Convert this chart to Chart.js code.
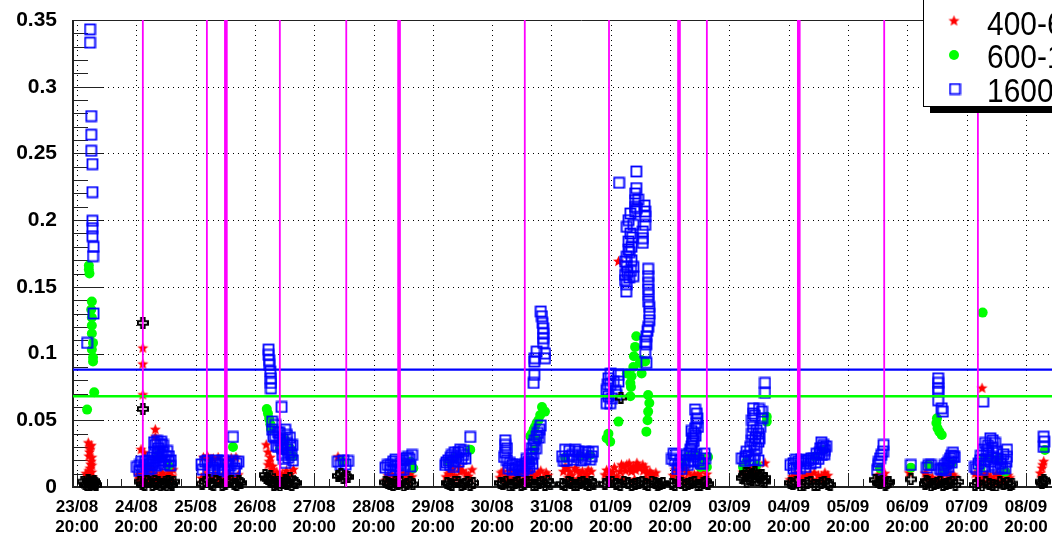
<!DOCTYPE html>
<html>
<head>
<meta charset="utf-8">
<script src="https://cdn.jsdelivr.net/npm/chart.js@4.4.1/dist/chart.umd.min.js"></script>
<style>
  html, body { margin: 0; padding: 0; background: #fff; overflow: hidden; }
  #wrap { position: absolute; left: 0; top: 0; width: 1100px; height: 537px; }
</style>
</head>
<body>
<div id="wrap"><canvas id="c"></canvas></div>
<script>
// x = days after 23/08 20:00, y = rate
const dayLabels = ['23/08','24/08','25/08','26/08','27/08','28/08','29/08','30/08','31/08',
                   '01/09','02/09','03/09','04/09','05/09','06/09','07/09','08/09'];
const valueTicks = [0, 0.05, 0.1, 0.15, 0.2, 0.25, 0.3, 0.35];
const legendLabels = ['400-600', '600-1600', '1600-'];
const xMin = -0.0675, xMax = 17.08;

// vertical event markers (days) and the two reference levels
const eventDays = [1.11, 2.19, 3.42, 4.54, 7.55, 8.97, 10.62, 13.61, 15.19];
const thickEventDays = [2.51, 5.43, 10.15, 12.17];
const blueLevel = 0.088;
const greenLevel = 0.068;

const red400 = [
  // 23/08
  [0.19,0.033],[0.24,0.031],[0.22,0.028],[0.25,0.022],[0.20,0.023],[0.24,0.019],[0.22,0.014],[0.25,0.011],[0.15,0.010],
  [0.21,0.026],[0.23,0.017],[0.20,0.012],[0.25,0.016],[0.22,0.030],[0.18,0.008],[0.26,0.007],
  // 24/08
  [1.11,0.104],[1.11,0.092],[1.11,0.069],[1.13,0.0255],[1.32,0.043],[1.32,0.0375],[1.03,0.009],[1.15,0.0068],[1.23,0.0105],
  [1.32,0.0053],[1.40,0.0083],[1.48,0.0068],[1.57,0.0113],[1.62,0.0128],[1.08,0.028],
  [1.05,0.006],[1.12,0.0095],[1.19,0.0085],[1.26,0.007],[1.30,0.010],[1.35,0.008],[1.44,0.0105],[1.52,0.009],[1.60,0.008],
  [1.09,0.0035],[1.21,0.004],[1.39,0.005],[1.56,0.0045],[1.25,0.0135],[1.14,0.013],
  // 25/08
  [2.13,0.022],[2.24,0.020],[2.38,0.022],[2.51,0.020],[2.68,0.022],[2.16,0.009],[2.28,0.0068],[2.45,0.0083],[2.61,0.0068],[2.72,0.009],
  [2.19,0.0145],[2.33,0.009],[2.40,0.0045],[2.55,0.0095],[2.67,0.005],[2.10,0.0065],[2.49,0.0055],[2.30,0.021],[2.60,0.0215],[2.20,0.023],
  // 26/08
  [3.19,0.0315],[3.22,0.026],[3.26,0.022],[3.22,0.0165],[3.29,0.0128],[3.34,0.0083],[3.42,0.0068],
  [3.24,0.019],[3.30,0.0155],[3.37,0.011],[3.46,0.0095],[3.53,0.012],[3.60,0.0095],[3.65,0.013],
  // 27/08
  [4.40,0.0225],
  // 28/08
  [5.24,0.0083],[5.36,0.0068],[5.45,0.009],[5.55,0.0068],[5.62,0.0098],
  [5.21,0.005],[5.30,0.0095],[5.40,0.0055],[5.50,0.010],[5.58,0.0045],[5.65,0.0075],
  // 29/08
  [6.26,0.0098],[6.36,0.0083],[6.46,0.0113],[6.56,0.0098],[6.63,0.006],[6.66,0.0128],
  [6.22,0.0075],[6.30,0.011],[6.40,0.0065],[6.50,0.012],[6.60,0.008],[6.33,0.0135],[6.45,0.0145],
  // 30/08
  [7.18,0.0113],[7.27,0.0083],[7.37,0.0068],[7.47,0.0098],[7.56,0.0075],[7.64,0.0113],[7.74,0.0083],[7.82,0.012],[7.91,0.0105],[7.13,0.0068],
  [7.15,0.0105],[7.22,0.0055],[7.30,0.0115],[7.33,0.0045],[7.42,0.0105],[7.45,0.005],[7.51,0.0115],[7.60,0.0065],[7.68,0.0095],
  [7.70,0.005],[7.78,0.0105],[7.86,0.0065],[7.94,0.0085],[7.52,0.0035],
  // 31/08
  [8.23,0.015],[8.31,0.0113],[8.40,0.014],[8.48,0.0098],[8.57,0.0083],[8.62,0.0128],[8.28,0.0068],[8.45,0.006],
  [8.20,0.0115],[8.26,0.014],[8.34,0.0085],[8.42,0.0125],[8.52,0.0115],[8.60,0.0095],[8.67,0.0115],[8.36,0.005],[8.55,0.005],
  // 01/09
  [9.13,0.169],[9.21,0.0152],[9.27,0.0165],[9.38,0.0152],[9.44,0.0178],[9.49,0.014],[9.61,0.0103],[9.66,0.0115],
  [8.99,0.0103],[9.10,0.0077],[9.35,0.0115],[9.72,0.0077],[8.90,0.009],
  [8.93,0.0125],[9.03,0.011],[9.06,0.0145],[9.16,0.0115],[9.18,0.0165],[9.25,0.012],[9.31,0.0175],[9.33,0.0135],[9.42,0.0125],
  [9.46,0.0155],[9.54,0.0165],[9.55,0.012],[9.58,0.0145],[9.69,0.0095],[9.76,0.0105],[9.00,0.0055],[9.20,0.006],[9.40,0.0055],[9.60,0.006],
  // 02/09
  [10.08,0.0128],[10.17,0.0083],[10.27,0.0113],[10.37,0.0068],[10.47,0.0098],[10.57,0.0128],[10.24,0.014],
  [10.05,0.0085],[10.13,0.011],[10.21,0.0065],[10.31,0.0105],[10.41,0.009],[10.52,0.0075],[10.62,0.0095],[10.28,0.0045],[10.47,0.0045],
  // 03/09
  [11.60,0.0178],[11.35,0.014],[11.23,0.011],[11.45,0.0125],
  // 04/09
  [12.11,0.009],[12.23,0.0068],[12.36,0.0098],[12.50,0.0083],[12.61,0.0105],[12.02,0.0053],
  [12.06,0.0075],[12.16,0.0105],[12.29,0.0085],[12.43,0.0105],[12.55,0.008],[12.66,0.0085],[12.20,0.0045],[12.40,0.0055],[12.58,0.005],
  // 05/09 - 06/09
  [13.54,0.009],[13.59,0.0068],[13.50,0.0085],[13.62,0.010],
  [14.03,0.0105],
  [14.30,0.0103],[14.35,0.0068],[14.64,0.0103],[14.72,0.0077],[14.77,0.009],[14.38,0.0045],[14.67,0.0053],
  [14.33,0.0085],[14.42,0.007],[14.58,0.0085],[14.69,0.0095],[14.80,0.0075],[14.52,0.0055],
  // 07/09
  [15.26,0.074],
  [15.14,0.0098],[15.23,0.0068],[15.35,0.009],[15.45,0.006],[15.55,0.0083],[15.65,0.0098],[15.73,0.0068],[15.28,0.0038],[15.50,0.003],
  [15.18,0.0085],[15.30,0.0095],[15.40,0.0075],[15.50,0.0095],[15.60,0.007],[15.70,0.0085],[15.20,0.004],[15.40,0.0035],[15.60,0.004],
  // 08/09
  [16.30,0.019],[16.27,0.014],[16.24,0.0103],[16.28,0.0165]
];

const green600 = [
  [0.20,0.166],[0.20,0.163],[0.21,0.160],[0.25,0.139],[0.24,0.133],[0.25,0.127],[0.25,0.121],[0.25,0.115],[0.27,0.108],
  [0.25,0.103],[0.27,0.097],[0.27,0.094],[0.29,0.071],[0.17,0.058],
  [1.54,0.016],[1.37,0.024],
  [2.63,0.030],
  [3.20,0.0585],[3.22,0.055],[3.24,0.051],[3.26,0.047],[3.27,0.0435],[3.51,0.035],[3.59,0.029],[3.42,0.028],[3.64,0.023],
  [4.49,0.019],
  [5.62,0.019],[5.67,0.014],
  [6.63,0.028],[6.37,0.022],[6.26,0.019],
  [7.84,0.060],[7.89,0.0565],[7.81,0.054],[7.78,0.050],[7.75,0.048],[7.72,0.045],[7.70,0.043],[7.67,0.040],[7.64,0.038],
  [7.64,0.020],[7.71,0.028],[7.76,0.035],
  [8.23,0.022],[8.48,0.023],[8.65,0.024],
  [9.43,0.113],[9.41,0.105],[9.39,0.098],[9.38,0.090],[9.35,0.083],[9.34,0.075],[9.33,0.068],[9.49,0.093],[9.52,0.085],
  [9.58,0.094],[9.27,0.085],[9.33,0.078],[9.52,0.095],[9.63,0.069],[9.65,0.063],[9.63,0.0565],[9.62,0.050],[9.60,0.0415],
  [9.13,0.049],[8.96,0.040],[8.93,0.0365],[8.99,0.034],
  [10.30,0.0227],[10.56,0.0215],[10.62,0.015],[10.51,0.015],[10.64,0.0225],[10.20,0.018],[10.45,0.024],
  [11.63,0.0527],[11.63,0.049],[11.29,0.019],[11.23,0.015],[11.46,0.0165],
  [12.59,0.0277],[12.16,0.0165],[12.44,0.0227],
  [13.54,0.014],
  [14.06,0.0145],
  [14.50,0.0515],[14.49,0.048],[14.51,0.044],[14.54,0.0415],[14.58,0.039],[14.36,0.0165],[14.61,0.0128],[14.75,0.0178],
  [15.27,0.1307],
  [15.28,0.0215],[15.40,0.0215],[15.54,0.0215],[15.65,0.0115],[15.23,0.014],
  [16.32,0.0277]
];

const blue1600 = [
  // 23/08
  [0.22,0.343],[0.22,0.333],[0.24,0.278],[0.24,0.264],[0.24,0.252],[0.26,0.242],[0.26,0.221],[0.26,0.1995],[0.26,0.194],
  [0.26,0.188],[0.28,0.180],[0.27,0.173],[0.28,0.130],[0.17,0.108],
  // 24/08
  [1.06,0.0165],[1.15,0.019],[1.23,0.017],[1.10,0.0128],[1.20,0.0128],[1.32,0.0315],[1.37,0.029],[1.40,0.026],[1.43,0.023],
  [1.48,0.020],[1.54,0.019],[1.57,0.016],[1.35,0.0345],[1.45,0.0315],[1.27,0.022],[1.33,0.016],[1.42,0.034],
  [1.01,0.015],[1.08,0.019],[1.13,0.015],[1.18,0.017],[1.25,0.014],[1.29,0.019],[1.30,0.026],[1.35,0.022],[1.38,0.018],
  [1.40,0.032],[1.45,0.026],[1.47,0.017],[1.50,0.023],[1.52,0.027],[1.55,0.023],[1.58,0.020],[1.41,0.020],[1.36,0.0255],
  [1.30,0.0335],[1.27,0.017],[1.05,0.012],[1.21,0.020],
  // 25/08
  [2.16,0.019],[2.24,0.0165],[2.33,0.018],[2.41,0.0165],[2.50,0.019],[2.58,0.016],[2.66,0.014],[2.21,0.0128],[2.38,0.0128],
  [2.55,0.012],[2.72,0.019],[2.63,0.0375],
  [2.10,0.017],[2.20,0.020],[2.29,0.0145],[2.36,0.020],[2.45,0.0135],[2.46,0.020],[2.54,0.0165],[2.62,0.0195],[2.69,0.0175],
  [2.12,0.013],[2.31,0.012],[2.49,0.0115],[2.66,0.012],
  // 26/08
  [3.23,0.103],[3.23,0.099],[3.24,0.095],[3.24,0.0915],[3.26,0.0865],[3.27,0.0815],[3.27,0.078],[3.27,0.074],[3.45,0.060],
  [3.29,0.049],[3.34,0.0465],[3.29,0.043],[3.39,0.041],[3.34,0.037],[3.42,0.035],[3.51,0.043],[3.54,0.039],[3.59,0.037],
  [3.63,0.0315],[3.54,0.033],[3.47,0.029],[3.59,0.026],[3.56,0.022],[3.64,0.020],[3.46,0.024],[3.51,0.018],[3.39,0.030],
  [3.31,0.038],[3.36,0.031],[3.42,0.0405],[3.47,0.036],[3.49,0.021],[3.55,0.028],[3.60,0.031],[3.62,0.024],[3.44,0.031],
  // 27/08
  [4.40,0.019],[4.49,0.020],[4.57,0.0195],[4.45,0.0165],[4.53,0.017],
  // 28/08
  [5.24,0.0165],[5.33,0.019],[5.41,0.016],[5.50,0.020],[5.58,0.0225],[5.65,0.024],[5.28,0.0128],[5.45,0.0128],
  [5.20,0.0145],[5.29,0.0165],[5.37,0.0155],[5.37,0.0205],[5.46,0.018],[5.53,0.0165],[5.55,0.0215],[5.61,0.021],[5.62,0.0155],
  [5.33,0.0125],[5.50,0.013],
  // 29/08
  [6.21,0.0165],[6.26,0.020],[6.32,0.024],[6.37,0.026],[6.46,0.028],[6.51,0.024],[6.29,0.0165],[6.43,0.019],[6.63,0.0375],
  [6.23,0.0185],[6.30,0.022],[6.34,0.0195],[6.40,0.0225],[6.43,0.026],[6.48,0.021],[6.52,0.027],[6.55,0.0215],[6.35,0.015],
  // 30/08
  [7.82,0.1315],[7.84,0.128],[7.85,0.123],[7.86,0.119],[7.86,0.115],[7.86,0.1115],[7.86,0.108],[7.75,0.1015],[7.89,0.100],
  [7.72,0.0965],[7.71,0.094],[7.89,0.0965],[7.71,0.084],[7.70,0.078],
  [7.22,0.035],[7.22,0.0315],[7.22,0.026],[7.25,0.020],[7.34,0.0165],[7.44,0.015],[7.54,0.016],[7.61,0.019],[7.64,0.024],
  [7.67,0.029],[7.72,0.035],[7.77,0.0405],[7.34,0.0128],[7.47,0.012],[7.59,0.014],
  [7.20,0.0225],[7.25,0.029],[7.28,0.014],[7.30,0.018],[7.39,0.0135],[7.40,0.017],[7.49,0.0155],[7.52,0.0125],[7.57,0.0175],
  [7.58,0.021],[7.63,0.015],[7.66,0.021],[7.69,0.025],[7.70,0.032],[7.74,0.029],[7.75,0.038],[7.80,0.043],[7.79,0.037],
  [7.82,0.046],[7.68,0.0175],
  // 31/08
  [8.18,0.023],[8.26,0.020],[8.35,0.024],[8.45,0.0225],[8.53,0.024],[8.62,0.026],[8.68,0.023],[8.23,0.028],[8.40,0.028],
  [8.21,0.0195],[8.30,0.023],[8.30,0.027],[8.37,0.0205],[8.45,0.0265],[8.50,0.020],[8.57,0.021],[8.57,0.0265],[8.65,0.0205],[8.70,0.0265],
  // 01/09
  [9.43,0.2365],[9.14,0.228],[9.43,0.224],[9.41,0.220],[9.41,0.215],[9.41,0.210],[9.41,0.2065],[9.58,0.2065],[9.58,0.2027],
  [9.27,0.195],[9.38,0.1965],[9.58,0.1965],[9.54,0.1915],[9.54,0.1865],[9.54,0.183],[9.33,0.190],[9.30,0.184],[9.30,0.178],
  [9.27,0.1727],[9.24,0.169],[9.35,0.170],[9.38,0.165],[9.27,0.165],[9.24,0.159],[9.24,0.155],[9.38,0.158],[9.26,0.1465],
  [9.63,0.158],[9.63,0.153],[9.63,0.148],[9.63,0.139],[9.65,0.130],[9.65,0.125],[9.63,0.120],[9.60,0.113],[9.60,0.093],
  [9.30,0.200],[9.33,0.205],[9.35,0.180],[9.32,0.176],[9.36,0.187],[9.28,0.161],[9.31,0.157],[9.34,0.162],[9.27,0.152],
  [9.46,0.2155],[9.44,0.209],[9.57,0.211],[9.63,0.1635],[9.64,0.144],[9.65,0.135],[9.62,0.117],[9.60,0.107],[9.58,0.101],
  [8.96,0.0815],[8.99,0.0765],[9.13,0.084],[9.13,0.079],[8.93,0.0727],[9.02,0.0665],[8.93,0.0628],[8.99,0.0628],[9.58,0.109],
  [9.05,0.079],[9.08,0.072],[8.96,0.068],[9.10,0.069],[9.00,0.085],[8.95,0.077],
  // 02/09
  [10.42,0.058],[10.45,0.055],[10.46,0.0515],[10.44,0.048],[10.42,0.044],[10.40,0.040],[10.38,0.0365],[10.37,0.033],[10.34,0.028],
  [10.28,0.024],[10.22,0.020],[10.06,0.025],[10.08,0.020],[10.14,0.0165],[10.34,0.020],[10.39,0.0227],[10.51,0.0178],[10.59,0.0215],
  [10.03,0.021],[10.10,0.024],[10.17,0.020],[10.19,0.0135],[10.25,0.018],[10.30,0.0165],[10.32,0.025],[10.36,0.0305],[10.40,0.019],
  [10.43,0.0385],[10.44,0.0245],[10.47,0.045],[10.48,0.020],[10.55,0.0175],[10.58,0.025],[10.12,0.0135],[10.40,0.0345],[10.36,0.042],
  // 03/09
  [11.60,0.078],[11.60,0.0705],[11.40,0.059],[11.40,0.055],[11.55,0.0565],[11.55,0.0515],[11.38,0.050],[11.40,0.045],[11.52,0.045],
  [11.38,0.040],[11.49,0.040],[11.38,0.035],[11.49,0.034],[11.35,0.030],[11.46,0.029],[11.29,0.0265],[11.27,0.0227],[11.43,0.024],
  [11.49,0.020],[11.35,0.020],[11.21,0.0215],
  [11.26,0.0195],[11.32,0.0235],[11.42,0.032],[11.44,0.037],[11.46,0.0425],[11.51,0.0365],[11.43,0.0535],[11.50,0.0585],[11.41,0.0205],
  // 04/09
  [12.08,0.0178],[12.16,0.019],[12.25,0.0178],[12.33,0.020],[12.42,0.0215],[12.47,0.025],[12.53,0.029],[12.59,0.0315],[12.61,0.0277],
  [12.56,0.024],[12.08,0.014],[12.19,0.014],
  [12.03,0.0165],[12.12,0.0205],[12.13,0.0145],[12.21,0.0205],[12.28,0.015],[12.29,0.0195],[12.37,0.0175],[12.38,0.0215],
  [12.45,0.0185],[12.50,0.021],[12.52,0.0255],[12.57,0.0295],[12.63,0.0305],[12.60,0.0245],[12.55,0.0335],
  // 05/09 - 06/09
  [13.60,0.0315],[13.59,0.0265],[13.54,0.0215],[13.51,0.0165],[13.49,0.0128],[13.56,0.024],[13.52,0.019],
  [14.06,0.0165],
  [14.52,0.0815],[14.52,0.078],[14.52,0.074],[14.52,0.0715],[14.52,0.065],[14.58,0.059],[14.60,0.0565],
  [14.36,0.0165],[14.61,0.014],[14.67,0.0178],[14.72,0.0215],[14.77,0.0257],[14.78,0.0227],[14.69,0.015],[14.58,0.0128],
  [14.33,0.0145],[14.40,0.0165],[14.63,0.0165],[14.70,0.0195],[14.75,0.0185],[14.74,0.0235],[14.65,0.0125],[14.80,0.0225],[14.55,0.0135],
  // 07/09
  [15.28,0.064],
  [15.40,0.0365],[15.31,0.033],[15.48,0.033],[15.28,0.028],[15.37,0.025],[15.51,0.0265],[15.68,0.028],[15.68,0.0227],[15.67,0.019],
  [15.65,0.014],[15.23,0.020],[15.14,0.015],[15.26,0.0128],[15.40,0.019],[15.57,0.0178],[15.48,0.015],
  [15.17,0.0135],[15.20,0.0175],[15.24,0.0235],[15.30,0.0155],[15.33,0.0205],[15.34,0.027],[15.36,0.031],[15.43,0.0295],
  [15.44,0.0225],[15.46,0.0165],[15.52,0.0215],[15.53,0.0135],[15.58,0.0205],[15.60,0.0145],[15.62,0.0245],[15.44,0.035],
  // 08/09
  [16.30,0.0377],[16.31,0.034],[16.30,0.030]
];

const black = [
  [0.14,0.002],[0.19,0.005],[0.24,0.003],[0.29,0.0045],[0.32,0.0015],[0.17,0.001],
  [0.10,0.004],[0.22,0.0015],[0.27,0.002],[0.21,0.0035],[0.31,0.003],
  [1.11,0.123],[1.11,0.0585],[1.10,0.0023],[1.18,0.0045],[1.27,0.0015],[1.37,0.0038],[1.45,0.0023],[1.54,0.0045],[1.60,0.0015],
  [1.06,0.004],[1.14,0.0015],[1.22,0.0035],[1.31,0.0045],[1.41,0.001],[1.49,0.004],[1.58,0.003],[1.63,0.004],[1.33,0.0022],[1.51,0.0012],
  [2.16,0.0038],[2.26,0.0023],[2.34,0.0045],[2.45,0.0015],[2.55,0.0038],[2.65,0.0023],[2.73,0.0045],
  [2.11,0.0025],[2.21,0.005],[2.30,0.0015],[2.39,0.0035],[2.50,0.0025],[2.60,0.0045],[2.69,0.0015],[2.76,0.003],
  [3.17,0.009],[3.22,0.006],[3.29,0.0038],[3.36,0.0023],[3.42,0.0008],[3.51,0.0053],[3.59,0.0068],[3.66,0.0038],[3.26,0.0083],[3.54,0.0023],
  [3.19,0.0065],[3.25,0.0045],[3.32,0.0015],[3.39,0.004],[3.46,0.003],[3.56,0.004],[3.62,0.0015],[3.69,0.003],
  [4.40,0.0083],[4.49,0.0068],[4.57,0.0075],[4.45,0.0095],[4.53,0.008],
  [5.24,0.003],[5.33,0.0015],[5.41,0.0023],[5.51,0.0008],[5.62,0.0038],
  [5.20,0.0035],[5.28,0.0025],[5.37,0.004],[5.46,0.0035],[5.56,0.0025],[5.66,0.002],
  [6.24,0.003],[6.32,0.0015],[6.43,0.0038],[6.53,0.0023],[6.63,0.0015],
  [6.28,0.0025],[6.37,0.004],[6.48,0.0015],[6.58,0.0035],[6.68,0.003],
  [7.18,0.0023],[7.29,0.0008],[7.39,0.003],[7.49,0.0015],[7.59,0.0038],[7.69,0.0015],[7.79,0.003],[7.89,0.0015],[7.94,0.0045],
  [7.14,0.003],[7.23,0.004],[7.34,0.0015],[7.44,0.0035],[7.54,0.0025],[7.64,0.004],[7.74,0.0015],[7.84,0.0035],[7.98,0.002],
  [8.18,0.0023],[8.28,0.0038],[8.38,0.0015],[8.48,0.003],[8.58,0.0023],[8.67,0.0038],
  [8.23,0.0015],[8.33,0.003],[8.43,0.0015],[8.53,0.0035],[8.63,0.0015],[8.71,0.0025],
  [9.17,0.067],[8.90,0.0023],[9.02,0.0038],[9.16,0.0015],[9.29,0.003],[9.41,0.0023],[9.53,0.0038],[9.63,0.0015],[9.75,0.003],[9.83,0.0023],
  [8.96,0.0035],[9.09,0.0025],[9.22,0.004],[9.35,0.0015],[9.47,0.003],[9.58,0.0025],[9.69,0.004],[9.79,0.0015],[9.88,0.003],
  [10.03,0.0023],[10.14,0.0038],[10.25,0.0015],[10.35,0.003],[10.46,0.0015],[10.56,0.003],[10.64,0.0023],
  [10.08,0.0015],[10.19,0.003],[10.30,0.0025],[10.41,0.0035],[10.51,0.0015],[10.60,0.004],
  [11.27,0.0105],[11.35,0.0083],[11.43,0.0113],[11.52,0.0075],[11.60,0.0068],[11.21,0.0068],[11.38,0.0053],[11.60,0.004],
  [11.24,0.0085],[11.31,0.0105],[11.32,0.006],[11.40,0.0095],[11.47,0.0085],[11.47,0.005],[11.55,0.009],[11.56,0.0045],[11.29,0.004],
  [12.07,0.0023],[12.19,0.0008],[12.31,0.003],[12.43,0.0015],[12.55,0.003],[12.66,0.0023],
  [12.03,0.003],[12.13,0.0035],[12.25,0.0015],[12.37,0.0035],[12.49,0.0015],[12.60,0.0035],[12.70,0.0015],
  [13.46,0.0053],[13.54,0.003],[13.63,0.0015],[13.69,0.0038],[13.50,0.0035],[13.58,0.0045],[13.66,0.003],
  [14.06,0.0058],
  [14.30,0.0023],[14.40,0.0008],[14.50,0.003],[14.60,0.0015],[14.71,0.003],[14.81,0.0015],[14.86,0.0038],
  [14.35,0.0035],[14.45,0.0025],[14.55,0.004],[14.65,0.0025],[14.76,0.004],[14.32,0.0045],
  [15.14,0.0015],[15.26,0.0008],[15.38,0.0023],[15.50,0.0008],[15.62,0.0023],[15.73,0.0015],
  [15.19,0.003],[15.32,0.0035],[15.44,0.0015],[15.56,0.0035],[15.68,0.003],[15.77,0.0025],
  [16.30,0.0053],[16.27,0.0028],[16.32,0.004],[16.25,0.004]
];

// ---- ROOT-like markers ----
function makeMarker(size, draw) {
  const c = document.createElement('canvas');
  c.width = c.height = size;
  draw(c.getContext('2d'), size / 2);
  return c;
}
const starMarker = makeMarker(13, (g, m) => {
  g.beginPath();
  for (let i = 0; i < 10; i++) {
    const r = i % 2 ? 2.6 : 5.8;
    const a = -Math.PI / 2 + i * Math.PI / 5;
    g.lineTo(m + r * Math.cos(a), m + r * Math.sin(a));
  }
  g.closePath();
  g.fillStyle = '#ff0000';
  g.fill();
});
const squareMarker = makeMarker(13, (g) => {
  g.strokeStyle = '#0000ff';
  g.lineWidth = 1.8;
  g.strokeRect(1.5, 1.5, 10, 10);
});
const crossMarker = makeMarker(12, (g, m) => {
  const a = 1.7, h = 5;
  g.beginPath();
  g.moveTo(m - a, m - h); g.lineTo(m + a, m - h); g.lineTo(m + a, m - a); g.lineTo(m + h, m - a);
  g.lineTo(m + h, m + a); g.lineTo(m + a, m + a); g.lineTo(m + a, m + h); g.lineTo(m - a, m + h);
  g.lineTo(m - a, m + a); g.lineTo(m - h, m + a); g.lineTo(m - h, m - a); g.lineTo(m - a, m - a);
  g.closePath();
  g.strokeStyle = '#000';
  g.lineWidth = 2;
  g.stroke();
});

const toXY = arr => arr.map(p => ({x: p[0], y: p[1]}));
const pointClip = {left: 6, top: 6, right: 6, bottom: 4};

const datasets = [
  {label: legendLabels[0], data: toXY(red400), pointStyle: starMarker, pointRadius: 5, order: 4, clip: pointClip},
  {label: legendLabels[1], data: toXY(green600), pointStyle: 'circle', pointRadius: 5,
   backgroundColor: '#00ff00', borderWidth: 0, order: 3, clip: pointClip},
  {label: legendLabels[2], data: toXY(blue1600), pointStyle: squareMarker, pointRadius: 5, order: 2, clip: pointClip},
  {label: 'all', data: toXY(black), pointStyle: crossMarker, pointRadius: 5, order: 1, clip: pointClip}
];

eventDays.forEach(d => datasets.push({data: [{x: d, y: 0}, {x: d, y: 0.35}], showLine: true,
  borderColor: '#ff00ff', borderWidth: 1.8, pointRadius: 0, order: 0}));
thickEventDays.forEach(d => datasets.push({data: [{x: d, y: 0}, {x: d, y: 0.35}], showLine: true,
  borderColor: '#ff00ff', borderWidth: 3.6, pointRadius: 0, order: 0}));
datasets.push({data: [{x: xMin, y: blueLevel}, {x: xMax, y: blueLevel}], showLine: true,
  borderColor: '#0000ff', borderWidth: 2.2, pointRadius: 0, order: 0});
datasets.push({data: [{x: xMin, y: greenLevel}, {x: xMax, y: greenLevel}], showLine: true,
  borderColor: '#00ff00', borderWidth: 2.5, pointRadius: 0, order: 0});

// grid, ticks and frame drawn the ROOT way
const rootFrame = {
  id: 'rootFrame',
  beforeDatasetsDraw(chart) {
    const {ctx, chartArea: a, scales: {x, y}} = chart;
    const seg = (x1, y1, x2, y2) => { ctx.beginPath(); ctx.moveTo(x1, y1); ctx.lineTo(x2, y2); ctx.stroke(); };
    ctx.save();
    ctx.strokeStyle = '#000';
    ctx.lineWidth = 1;
    ctx.setLineDash([1, 4]);
    for (let d = 0; d <= 17; d++) {
      const px = Math.round(x.getPixelForValue(d)) + 0.5;
      seg(px, a.top, px, a.bottom);
    }
    valueTicks.slice(1, -1).forEach(v => {
      const py = Math.round(y.getPixelForValue(v)) + 0.5;
      seg(a.left, py, a.right, py);
    });
    ctx.setLineDash([]);
    ctx.strokeStyle = '#222';
    for (let i = 0; i <= 35; i++) {
      const py = Math.round(y.getPixelForValue(i / 100)) + 0.5;
      seg(a.left, py, a.left + (i % 5 === 0 ? 30 : 15), py);
    }
    for (let i = 0; i <= 70; i++) {
      const px = Math.round(x.getPixelForValue(i / 4)) + 0.5;
      if (px < a.left) continue;
      seg(px, a.bottom, px, a.bottom - (i % 4 === 0 ? 14 : 8));
    }
    ctx.lineWidth = 1;
    seg(a.left, a.top + 0.5, a.right, a.top + 0.5);
    ctx.lineWidth = 2;
    seg(a.left, a.top, a.left, a.bottom + 1);
    seg(a.left, a.bottom, a.right, a.bottom);
    ctx.restore();
  },
  afterDraw(chart) {
    const ctx = chart.ctx;
    ctx.save();
    ctx.fillStyle = '#000';
    ctx.fillRect(930, 106, 200, 7);
    ctx.fillStyle = '#fff';
    ctx.fillRect(923, -5, 200, 111);
    ctx.strokeStyle = '#000';
    ctx.lineWidth = 1;
    ctx.strokeRect(923.5, -5, 200, 111.5);
    ctx.drawImage(starMarker, 954 - 6.5, 21 - 6.5);
    ctx.fillStyle = '#00ff00';
    ctx.beginPath(); ctx.arc(954, 55, 5, 0, Math.PI * 2); ctx.fill();
    ctx.drawImage(squareMarker, 955 - 6.5, 89 - 6.5);
    ctx.fillStyle = '#000';
    ctx.font = '34px "Liberation Sans", Arial, sans-serif';
    [35, 68, 102].forEach((base, i) => {
      ctx.save();
      ctx.translate(987, base);
      ctx.scale(0.88, 1);
      ctx.fillText(legendLabels[i], 0, 0);
      ctx.restore();
    });
    ctx.restore();
  }
};

Chart.defaults.font.family = '"Liberation Sans", Arial, Helvetica, sans-serif';
Chart.defaults.color = '#000';

new Chart(document.getElementById('c'), {
  type: 'scatter',
  data: {datasets},
  options: {
    responsive: true,
    maintainAspectRatio: false,
    devicePixelRatio: 1,
    animation: false,
    events: [],
    layout: {padding: {top: 20, right: 10, left: 0, bottom: 0}},
    plugins: {legend: {display: false}, tooltip: {enabled: false}},
    scales: {
      x: {
        type: 'linear', min: xMin, max: xMax,
        grid: {display: false, drawTicks: false}, border: {display: false},
        afterBuildTicks: s => { s.ticks = dayLabels.map((_, i) => ({value: i})); },
        afterFit: s => { s.height = 50; },
        ticks: {
          autoSkip: false, maxRotation: 0, padding: 10,
          font: {size: 17, weight: 'bold', lineHeight: 1.2},
          callback: v => [dayLabels[v], '20:00']
        }
      },
      y: {
        type: 'linear', min: 0, max: 0.35,
        grid: {display: false, drawTicks: false}, border: {display: false},
        afterBuildTicks: s => { s.ticks = valueTicks.map(v => ({value: v})); },
        afterFit: s => { s.width = 73; s.paddingTop = 0; s.paddingBottom = 0; },
        ticks: {
          padding: 16,
          font: {size: 21, weight: 'bold'},
          callback: v => String(+v.toFixed(2))
        }
      }
    }
  },
  plugins: [rootFrame]
});
</script>
</body>
</html>
